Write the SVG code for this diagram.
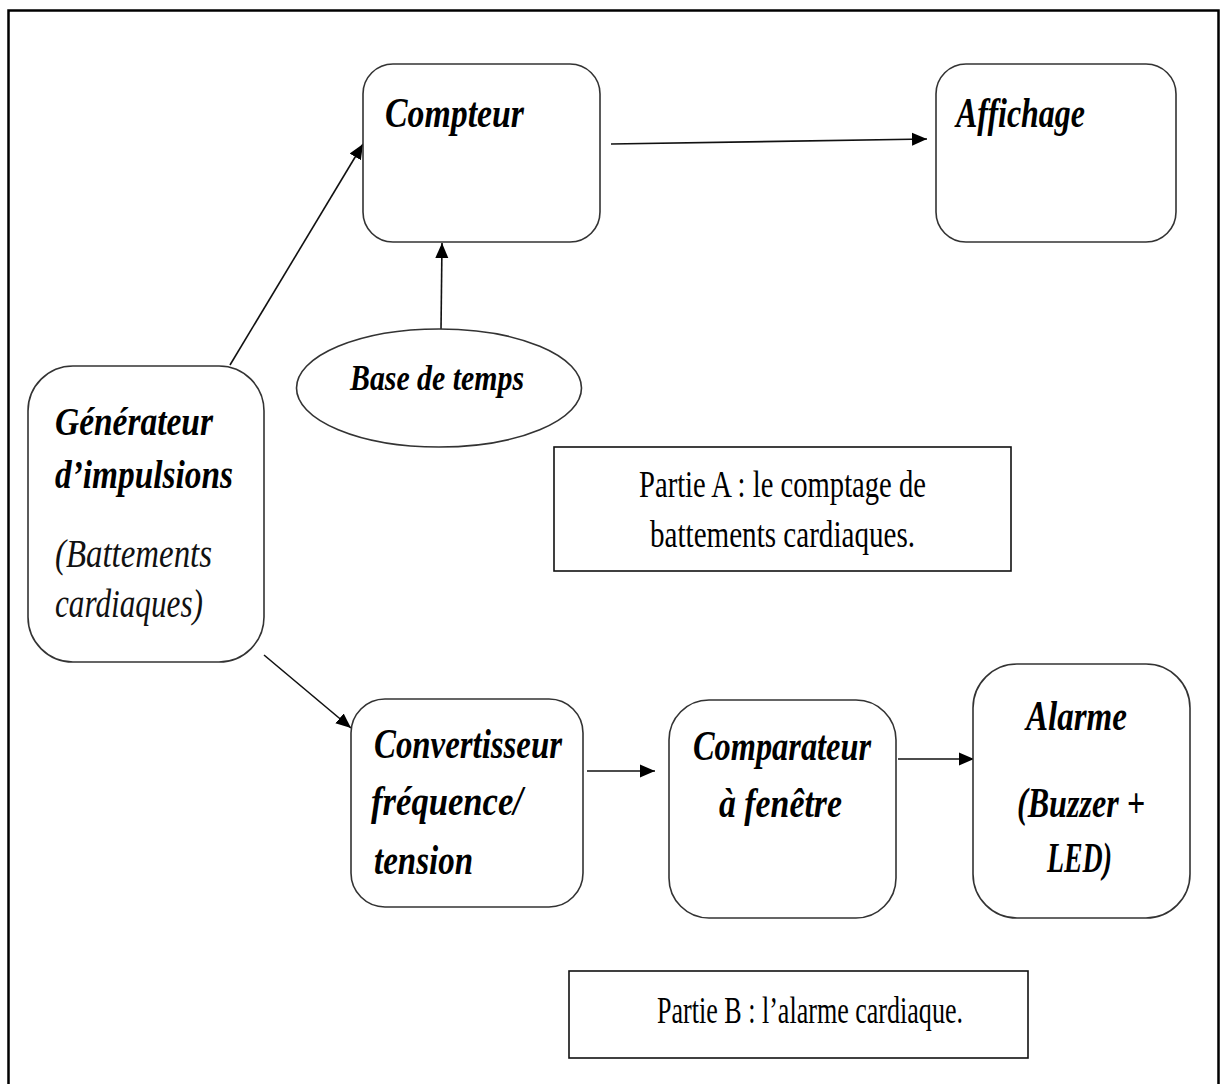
<svg xmlns="http://www.w3.org/2000/svg" width="1224" height="1084" viewBox="0 0 1224 1084">
<defs>
<style>
.box{fill:#fff;stroke:#333;stroke-width:1.6}
.rect{fill:#fff;stroke:#111;stroke-width:1.6}
.lbl{font-family:"Liberation Serif","Times New Roman",serif;font-style:italic;font-weight:bold;fill:#000}
.sub{font-family:"Liberation Serif","Times New Roman",serif;font-style:italic;font-weight:normal;fill:#111}
.note{font-family:"Liberation Serif","Times New Roman",serif;font-weight:normal;fill:#000}
.con{stroke:#111;stroke-width:1.6;fill:none;marker-end:url(#ah)}
</style>
<marker id="ah" markerUnits="userSpaceOnUse" markerWidth="16" markerHeight="14" refX="15" refY="7" orient="auto">
<path d="M0,0.5 L15,7 L0,13.5 Z" fill="#000"/>
</marker>
</defs>
<rect width="1224" height="1084" fill="#fff"/>
<path d="M8.5,1084 V10.5 H1218.5 V1084" fill="none" stroke="#000" stroke-width="2.5"/>

<g id="connectors">
<line class="con" x1="230" y1="365" x2="363" y2="144"/>
<line class="con" x1="441" y1="330" x2="442" y2="243"/>
<line class="con" x1="611" y1="144" x2="927" y2="139"/>
<line class="con" x1="264" y1="655" x2="351" y2="728"/>
<line class="con" x1="587" y1="771" x2="655" y2="771"/>
<line class="con" x1="898" y1="759" x2="974" y2="759"/>
</g>

<g id="compteur">
<rect class="box" x="363" y="64" width="237" height="178" rx="30"/>
<text class="lbl" x="385" y="127" font-size="42" textLength="139" lengthAdjust="spacingAndGlyphs">Compteur</text>
</g>

<g id="affichage">
<rect class="box" x="936" y="64" width="240" height="178" rx="30"/>
<text class="lbl" x="956" y="127" font-size="42" textLength="129" lengthAdjust="spacingAndGlyphs">Affichage</text>
</g>

<g id="base-de-temps">
<ellipse class="box" cx="439" cy="388" rx="142.5" ry="59"/>
<text class="lbl" x="350" y="390" font-size="35" textLength="174" lengthAdjust="spacingAndGlyphs">Base de temps</text>
</g>

<g id="generateur">
<rect class="box" x="28" y="366" width="236" height="296" rx="45"/>
<text class="lbl" x="55" y="435" font-size="40" textLength="158" lengthAdjust="spacingAndGlyphs">Générateur</text>
<text class="lbl" x="55" y="488" font-size="40" textLength="178" lengthAdjust="spacingAndGlyphs">d’impulsions</text>
<text class="sub" x="55" y="567" font-size="40" textLength="157" lengthAdjust="spacingAndGlyphs">(Battements</text>
<text class="sub" x="55" y="617" font-size="40" textLength="148" lengthAdjust="spacingAndGlyphs">cardiaques)</text>
</g>

<g id="partie-a">
<rect class="rect" x="554" y="447" width="457" height="124"/>
<text class="note" x="639" y="497" font-size="38" textLength="287" lengthAdjust="spacingAndGlyphs">Partie A : le comptage de</text>
<text class="note" x="650" y="547" font-size="38" textLength="265" lengthAdjust="spacingAndGlyphs">battements cardiaques.</text>
</g>

<g id="convertisseur">
<rect class="box" x="351" y="699" width="232" height="208" rx="34"/>
<text class="lbl" x="374" y="758" font-size="42" textLength="188" lengthAdjust="spacingAndGlyphs">Convertisseur</text>
<text class="lbl" x="371" y="815" font-size="42" textLength="152" lengthAdjust="spacingAndGlyphs">fréquence/</text>
<text class="lbl" x="374" y="874" font-size="42" textLength="99" lengthAdjust="spacingAndGlyphs">tension</text>
</g>

<g id="comparateur">
<rect class="box" x="669" y="700" width="227" height="218" rx="40"/>
<text class="lbl" x="693" y="760" font-size="42" textLength="178" lengthAdjust="spacingAndGlyphs">Comparateur</text>
<text class="lbl" x="719" y="817" font-size="42" textLength="123" lengthAdjust="spacingAndGlyphs">à fenêtre</text>
</g>

<g id="alarme">
<rect class="box" x="973" y="664" width="217" height="254" rx="44"/>
<text class="lbl" x="1026" y="730" font-size="42" textLength="101" lengthAdjust="spacingAndGlyphs">Alarme</text>
<text class="lbl" x="1017" y="817" font-size="42" textLength="128" lengthAdjust="spacingAndGlyphs">(Buzzer +</text>
<text class="lbl" x="1047" y="872" font-size="42" textLength="65" lengthAdjust="spacingAndGlyphs">LED)</text>
</g>

<g id="partie-b">
<rect class="rect" x="569" y="971" width="459" height="87"/>
<text class="note" x="657" y="1023" font-size="37" textLength="306" lengthAdjust="spacingAndGlyphs">Partie B : l’alarme cardiaque.</text>
</g>
</svg>
